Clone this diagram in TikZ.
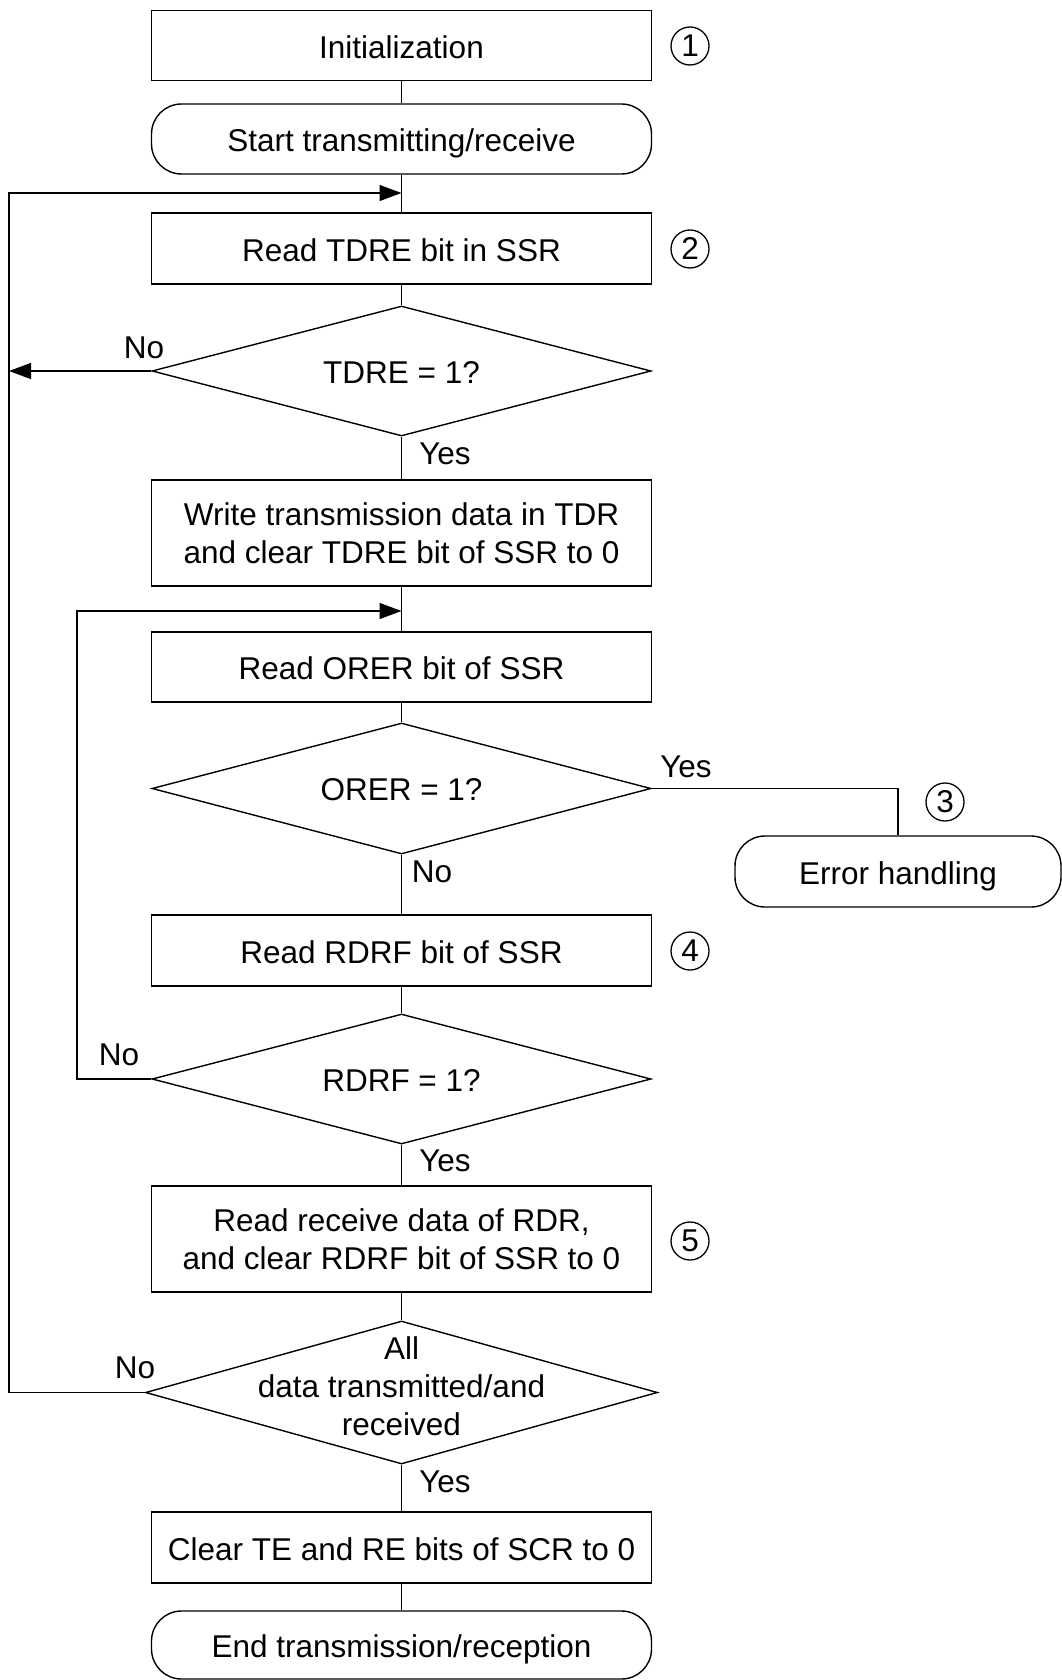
\documentclass[tikz,border=0pt]{standalone}
\usepackage{fontspec}
\setmainfont{Liberation Sans}
\usetikzlibrary{shapes.geometric,arrows.meta}
\newcommand{\flowfont}{\fontsize{31.5}{38}\selectfont}
\begin{document}
\begin{tikzpicture}[x=1pt,y=-1pt,
  box/.style={draw, line width=1.4pt, rectangle, minimum width=500pt, minimum height=70pt, inner sep=0pt, align=center, font=\flowfont},
  sbox/.style={box, text height=27pt, text depth=1.5pt},
  term/.style={sbox, rounded corners=30pt},
  dia/.style={draw, line width=1.4pt, diamond, minimum width=499pt, minimum height=131pt, inner sep=0pt},
  lbl/.style={inner sep=0pt, align=center, font=\flowfont},
  circ/.style={draw, line width=1.3pt, circle, minimum size=38pt, inner sep=0pt, font=\flowfont},
  conn/.style={line width=1.3pt},
  arr/.style={conn, -{Triangle[length=22pt,width=16pt]}}
]
\useasboundingbox (0,0) rectangle (1061,1680);

\node[sbox] (init) at (401.5,45.5) {Initialization};
\node[term] (start) at (401.5,139) {Start transmitting/receive};
\node[sbox, minimum height=71pt] (rtdre) at (401.5,248.5) {Read TDRE bit in SSR};
\node[dia, minimum height=130pt] (d1) at (401.5,371) {};
\node[lbl] (d1t) at (401.5,372.5) {TDRE = 1?};
\node[box, minimum height=106pt] (write) at (401.5,533) {Write transmission data in TDR\\and clear TDRE bit of SSR to 0};
\node[sbox] (rorer) at (401.5,667) {Read ORER bit of SSR};
\node[dia] (d2) at (401.5,788.5) {};
\node[lbl] (d2t) at (401.5,790) {ORER = 1?};
\node[term, minimum width=326pt, minimum height=71pt] (err) at (898,871.5) {Error handling};
\node[sbox, minimum height=71pt] (rrdrf) at (401.5,950.5) {Read RDRF bit of SSR};
\node[dia, minimum height=130pt] (d3) at (401.5,1079) {};
\node[lbl] (d3t) at (401.5,1080.5) {RDRF = 1?};
\node[box, minimum height=106pt] (rrcv) at (401.5,1239) {Read receive data of RDR,\\and clear RDRF bit of SSR to 0};
\node[dia, minimum width=512pt, minimum height=143pt] (d4) at (401.5,1392.5) {};
\node[lbl] (d4t) at (401.5,1386) {All\\data transmitted/and\\received};
\node[sbox, minimum height=71pt] (clr) at (401.5,1547.5) {Clear TE and RE bits of SCR to 0};
\node[term, minimum height=68pt] (fin) at (401.5,1645) {End transmission/reception};

\node[circ] (c1) at (690,46) {1};
\node[circ] (c2) at (690,249) {2};
\node[circ] (c3) at (945,802) {3};
\node[circ] (c4) at (690,951) {4};
\node[circ] (c5) at (690,1241) {5};

\node[lbl] (no1) at (144,348) {No};
\node[lbl] (yes1) at (445,454) {Yes};
\node[lbl] (yes2) at (686,767) {Yes};
\node[lbl] (no2) at (432,872) {No};
\node[lbl] (no3) at (119,1055) {No};
\node[lbl] (yes3) at (445,1161) {Yes};
\node[lbl] (no4) at (135,1368) {No};
\node[lbl] (yes4) at (445,1482) {Yes};

\coordinate (m1) at (401.5,193);
\coordinate (m2) at (401.5,611);
\coordinate (lA) at (9,193);
\coordinate (lB) at (77,611);

\draw[conn] (init.south) -- (start.north);
\draw[conn] (start.south) -- (rtdre.north);
\draw[conn] (rtdre.south) -- (d1.north);
\draw[conn] (d1.south) -- (write.north);
\draw[conn] (write.south) -- (rorer.north);
\draw[conn] (rorer.south) -- (d2.north);
\draw[conn] (d2.south) -- (rrdrf.north);
\draw[conn] (rrdrf.south) -- (d3.north);
\draw[conn] (d3.south) -- (rrcv.north);
\draw[conn] (rrcv.south) -- (d4.north);
\draw[conn] (d4.south) -- (clr.north);
\draw[conn] (clr.south) -- (fin.north);

\draw[arr] (d4.west) -| (lA) -- (m1);
\draw[arr] (d1.west) -- (d1.west -| lA);
\draw[arr] (d3.west) -| (lB) -- (m2);
\draw[conn] (d2.east) -| (err.north);
\end{tikzpicture}
\end{document}
